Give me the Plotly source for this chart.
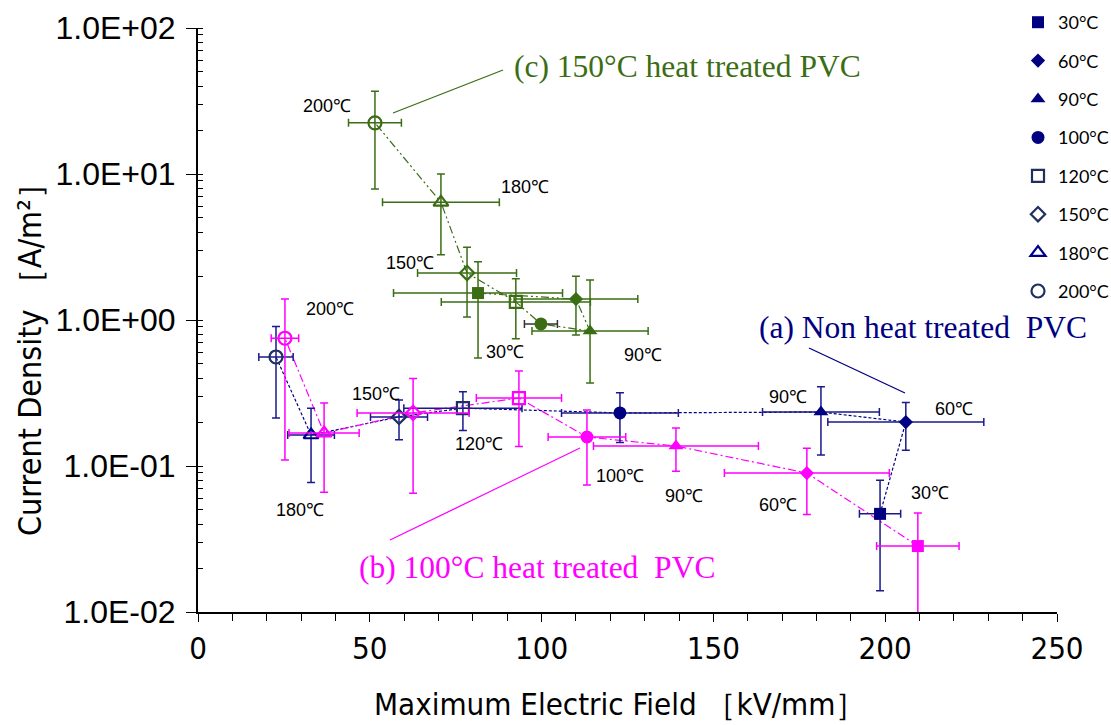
import plotly.graph_objects as go

# Annealing / measurement temperatures (legend order)
temps = ["30°C", "60°C", "90°C", "100°C", "120°C", "150°C", "180°C", "200°C"]

# (a) Non heat treated PVC
a_field = [198.5, 206.0, 181.3, 122.8, 77.1, 58.5, 32.9, 22.7]
a_field_err = [6.0, 22.7, 17.0, 17.0, 17.2, 8.3, 6.8, 5.0]
a_current = [0.047, 0.200, 0.234, 0.231, 0.249, 0.217, 0.163, 0.558]
a_current_err = [0.033, 0.072, 0.115, 0.086, 0.074, 0.066, 0.086, 0.345]

# (b) 100°C heat treated PVC
b_field = [209.5, 177.2, 139.1, 113.2, 93.4, 62.6, 36.7, 25.3]
b_field_err = [12.0, 24.0, 24.0, 11.3, 12.4, 16.3, 10.2, 4.0]
b_current = [0.0283, 0.0895, 0.137, 0.158, 0.292, 0.231, 0.168, 0.750]
b_current_err = [0.0194, 0.043, 0.045, 0.084, 0.156, 0.166, 0.102, 0.640]

# (c) 150°C heat treated PVC
c_field = [81.5, 110.0, 114.1, 99.8, 92.5, 78.3, 70.7, 51.5]
c_field_err = [24.6, 18.0, 16.9, 4.8, 21.7, 14.4, 17.0, 7.7]
c_current = [1.53, 1.39, 0.84, 0.94, 1.33, 2.10, 6.4, 22.4]
c_current_err_plus = [0.98, 0.60, 1.04, 0.0, 0.585, 1.05, 3.6, 14.5]
c_current_err_minus = [0.98, 0.60, 0.47, 0.0, 0.585, 1.05, 3.6, 14.5]

# Axis tick labels
y_tickvals = [0.01, 0.1, 1, 10, 100]
y_ticktext = ["1.0E-02", "1.0E-01", "1.0E+00", "1.0E+01", "1.0E+02"]
x_tickvals = [0, 50, 100, 150, 200, 250]

symbols = ["square", "diamond", "triangle-up", "circle",
           "square-open", "diamond-open", "triangle-up-open", "circle-open"]
sizes = [12, 11, 13, 13, 12, 11, 13, 13]

NAVY = "#000080"
NAVY_OPEN = ["#000080"] * 4 + ["#1F3060", "#1F3060", "#00008B", "#1F3060"]
PINK = "#FF00FF"
GREEN = "#3B6E14"

# Plot-area geometry in pixels (for placing text and pointer lines)
W, H = 1111, 725
L, R, T, B = 198, 1057, 28, 612


def px(xp):
    return (xp - L) / (R - L)


def py(yp):
    return (B - yp) / (B - T)


fig = go.Figure()

series = [
    dict(x=a_field, y=a_current, ex=a_field_err, ey=a_current_err, eym=a_current_err,
         colors=NAVY_OPEN, ecolor="#1A1A8C", line=NAVY, dash="3px,2px", legend=True),
    dict(x=b_field, y=b_current, ex=b_field_err, ey=b_current_err, eym=b_current_err,
         colors=[PINK] * 8, ecolor=PINK, line=PINK, dash="8px,3px,2px,3px", legend=False),
    dict(x=c_field, y=c_current, ex=c_field_err, ey=c_current_err_plus, eym=c_current_err_minus,
         colors=[GREEN] * 8, ecolor=GREEN, line=GREEN, dash="8px,3px,2px,3px,2px,3px", legend=False),
]

# connecting lines first, markers drawn on top
for s in series:
    fig.add_trace(go.Scatter(
        x=s["x"], y=s["y"], mode="lines",
        line=dict(color=s["line"], width=1.2, dash=s["dash"]),
        showlegend=False, hoverinfo="skip"))

for s in series:
    for i, t in enumerate(temps):
        ex_color = s["ecolor"]
        if s is series[2] and i == 3:
            ex_color = "#333333"
        fig.add_trace(go.Scatter(
            x=[s["x"][i]], y=[s["y"][i]], mode="markers", name=t,
            marker=dict(symbol=symbols[i], size=sizes[i], color=s["colors"][i],
                        line=dict(width=2.2 if i >= 4 else 0, color=s["colors"][i])),
            error_x=dict(type="data", array=[s["ex"][i]], color=ex_color,
                         thickness=1.5, width=4),
            error_y=dict(type="data", array=[s["ey"][i]], arrayminus=[s["eym"][i]],
                         color=s["ecolor"], thickness=1.5, width=4,
                         visible=(s["ey"][i] > 0)),
            showlegend=s["legend"], legendgroup=t, legendrank=i + 1))

# temperature labels next to the points
point_labels = [
    ("200℃", 327, 106), ("180℃", 525, 187), ("150℃", 410, 263),
    ("30℃", 505, 352), ("90℃", 643, 355),
    ("200℃", 330, 309), ("150℃", 376, 394), ("120℃", 479, 444),
    ("180℃", 300, 510), ("100℃", 620, 476), ("90℃", 684, 496),
    ("60℃", 778, 505), ("90℃", 788, 397), ("60℃", 954, 409),
    ("30℃", 930, 493),
]
annotations = []
for txt, xp, yp in point_labels:
    annotations.append(dict(
        text=txt, x=px(xp), y=py(yp), xref="paper", yref="paper",
        xanchor="center", yanchor="middle", showarrow=False,
        font=dict(family="Liberation Sans, Arial, sans-serif", size=18, color="black")))

# series names
serif = "Liberation Serif, Times New Roman, serif"
annotations += [
    dict(text="(c) 150°C heat treated PVC", x=px(512), y=py(66), xref="paper", yref="paper",
         xanchor="left", yanchor="middle", showarrow=False,
         font=dict(family=serif, size=31.5, color=GREEN)),
    dict(text="(a) Non heat treated\u00a0\u00a0PVC", x=px(757), y=py(327), xref="paper", yref="paper",
         xanchor="left", yanchor="middle", showarrow=False,
         font=dict(family=serif, size=31.5, color=NAVY)),
    dict(text="(b) 100°C heat treated\u00a0\u00a0PVC", x=px(357), y=py(567), xref="paper", yref="paper",
         xanchor="left", yanchor="middle", showarrow=False,
         font=dict(family=serif, size=31.5, color=PINK)),
]

# axis titles
narrow = "Liberation Sans Narrow, DejaVu Sans Condensed, Arial Narrow, sans-serif"
annotations += [
    dict(text="Maximum Electric Field ［kV/mm］", x=px(620), y=py(704), xref="paper", yref="paper",
         xanchor="center", yanchor="middle", showarrow=False,
         font=dict(family=narrow, size=31, color="black")),
    dict(text="Current Density ［A/m²］", x=px(30), y=py(352), xref="paper", yref="paper",
         xanchor="center", yanchor="middle", showarrow=False, textangle=-90,
         font=dict(family=narrow, size=32, color="black")),
]

# pointer lines from series names to the curves
shapes = [
    dict(type="line", xref="paper", yref="paper", x0=px(393), y0=py(113), x1=px(503), y1=py(70),
         line=dict(color=GREEN, width=1.3)),
    dict(type="line", xref="paper", yref="paper", x0=px(809), y0=py(348), x1=px(905), y1=py(393),
         line=dict(color=NAVY, width=1.3)),
    dict(type="line", xref="paper", yref="paper", x0=px(390), y0=py(540), x1=px(580), y1=py(448),
         line=dict(color=PINK, width=1.3)),
]

fig.update_layout(
    width=W, height=H,
    margin=dict(l=L, r=W - R, t=T, b=H - B, autoexpand=False),
    paper_bgcolor="white", plot_bgcolor="white",
    annotations=annotations, shapes=shapes,
    legend=dict(x=px(1018), y=py(4), xanchor="left", yanchor="top",
                traceorder="grouped", tracegroupgap=12,
                font=dict(family="Lato, Open Sans, sans-serif", size=18, color="black"),
                bgcolor="rgba(0,0,0,0)"),
    xaxis=dict(range=[0, 250], tickvals=x_tickvals, ticks="outside", ticklen=8,
               tickwidth=1.3, tickcolor="black",
               minor=dict(dtick=10, ticks="outside", ticklen=7, tickcolor="black", tickwidth=1.3),
               showline=True, linecolor="black", linewidth=2, showgrid=False, zeroline=False,
               tickfont=dict(family=narrow, size=31, color="black")),
    yaxis=dict(type="log", range=[-2, 2], tickvals=y_tickvals, ticktext=y_ticktext,
               ticks="outside", ticklen=10, tickwidth=1.3, tickcolor="black",
               ticklabelstandoff=4,
               minor=dict(dtick="D1", ticks="inside", ticklen=5, tickcolor="black", tickwidth=1),
               showline=True, linecolor="black", linewidth=2, showgrid=False, zeroline=False,
               tickfont=dict(family="Liberation Sans, Arial, sans-serif", size=32, color="black")),
)

fig.write_html("out.html")
